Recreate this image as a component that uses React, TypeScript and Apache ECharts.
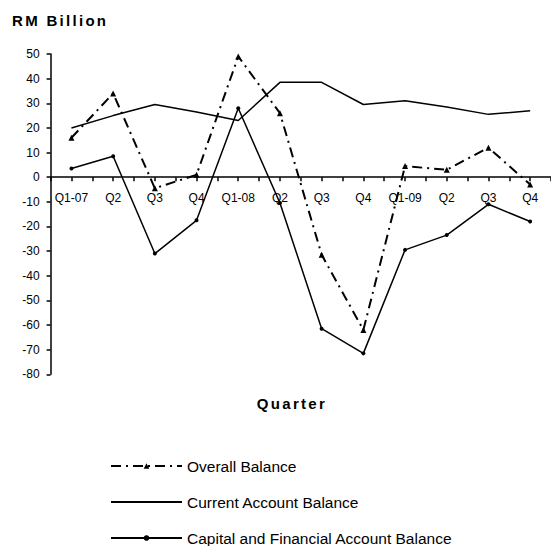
import React, { useEffect, useRef } from "react";
import * as echarts from "echarts";

const categories = ["Q1-07", "Q2", "Q3", "Q4", "Q1-08", "Q2", "Q3", "Q4", "Q1-09", "Q2", "Q3", "Q4"];
const overallBalance = [16, 34, -4.5, 1, 49, 26, -31.5, -62, 4.5, 3, 12, -3];
const currentAccount = [20, 25, 29.5, 26.5, 23, 38.5, 38.5, 29.5, 31, 28.5, 25.5, 27];
const capitalFinancial = [3.5, 8.5, -31, -17.5, 28, -10.5, -61.5, -71.5, -29.5, -23.5, -11, -18];
const yTicks = { min: -80, max: 50, step: 10 };

const FONT = "'Liberation Sans', Arial, sans-serif";

// grid geometry
const GRID_TOP = 54;
const GRID_BOTTOM = 171.7;
const CHART_H = 546;

export default function App() {
  const ref = useRef<HTMLDivElement>(null);
  useEffect(() => {
    if (!ref.current) return;
    const chart = echarts.init(ref.current, undefined, { renderer: "svg" });
    const plotH = CHART_H - GRID_TOP - GRID_BOTTOM;
    // distance from bottom of plot to the zero line, so the category axis sits on y = 0
    const zeroFromBottom = (plotH * (0 - yTicks.min)) / (yTicks.max - yTicks.min);
    chart.setOption({
      animation: false,
      backgroundColor: "#ffffff",
      textStyle: { fontFamily: FONT, color: "#000" },
      title: [
        {
          text: "RM Billion",
          left: 12,
          top: 13,
          padding: 0,
          textStyle: { fontFamily: FONT, fontWeight: "bold", fontSize: 15, color: "#000" },
        },
        {
          text: "Quarter",
          left: 292,
          top: 396,
          padding: 0,
          textAlign: "center",
          textStyle: { fontFamily: FONT, fontWeight: "bold", fontSize: 15, color: "#000" },
        },
      ],
      legend: {
        orient: "vertical",
        left: 110,
        top: 458,
        height: 120,
        padding: 0,
        itemWidth: 71,
        itemHeight: 7,
        itemGap: 20,
        textStyle: { fontFamily: FONT, fontSize: 15.5, color: "#000" },
        data: [
          { name: "Overall Balance" },
          { name: "Current Account Balance", itemStyle: { color: "rgba(0,0,0,0)", borderWidth: 0, opacity: 0 } },
          { name: "Capital and Financial Account Balance" },
        ],
      },
      grid: { left: 50.6, right: -12.4, top: GRID_TOP, bottom: GRID_BOTTOM, containLabel: false },
      xAxis: [
        {
          type: "category",
          data: categories,
          boundaryGap: true,
          position: "bottom",
          offset: -zeroFromBottom,
          axisLine: { show: true, onZero: false, lineStyle: { color: "#000", width: 1.5 } },
          axisTick: { show: true, interval: 0, length: 4, inside: false, lineStyle: { color: "#000", width: 1.5 } },
          axisLabel: { interval: 0, margin: 15, fontFamily: FONT, fontSize: 12, color: "#000" },
          splitLine: { show: false },
        },
        {
          type: "category",
          data: categories,
          boundaryGap: true,
          position: "bottom",
          offset: -zeroFromBottom,
          axisLine: { show: false, onZero: false },
          axisTick: { show: true, interval: 0, alignWithLabel: true, length: 4, lineStyle: { color: "#000", width: 1.5 } },
          axisLabel: { show: false },
          splitLine: { show: false },
        },
      ],
      yAxis: {
        type: "value",
        min: yTicks.min,
        max: yTicks.max,
        interval: yTicks.step,
        axisLine: { show: true, onZero: false, lineStyle: { color: "#000", width: 1.5 } },
        axisTick: { show: true, length: 4, lineStyle: { color: "#000", width: 1.5 } },
        axisLabel: { margin: 11, fontFamily: FONT, fontSize: 12, color: "#000" },
        splitLine: { show: false },
      },
      series: [
        {
          name: "Overall Balance",
          type: "line",
          data: overallBalance,
          symbol: "triangle",
          symbolSize: 6,
          z: 3,
          itemStyle: { color: "#000" },
          lineStyle: { color: "#000", width: 2, type: [10, 5, 2, 5] },
        },
        {
          name: "Current Account Balance",
          type: "line",
          data: currentAccount,
          symbol: "none",
          itemStyle: { color: "#000" },
          lineStyle: { color: "#000", width: 1.5, type: "solid" },
        },
        {
          name: "Capital and Financial Account Balance",
          type: "line",
          data: capitalFinancial,
          symbol: "circle",
          symbolSize: 4,
          itemStyle: { color: "#000" },
          lineStyle: { color: "#000", width: 1.5, type: "solid" },
        },
      ],
    });
    return () => chart.dispose();
  }, []);
  return (
    <>
      <style>{`#bop-chart text[style*="bold"] { letter-spacing: 2.3px; }`}</style>
      <div
        id="bop-chart"
        ref={ref}
        style={{ position: "absolute", left: 0, top: 0, width: 551, height: 546, background: "#fff" }}
      />
    </>
  );
}
